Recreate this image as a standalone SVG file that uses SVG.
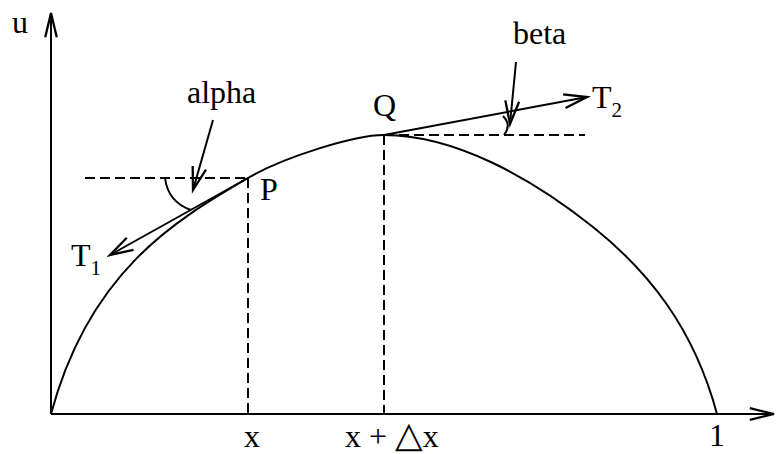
<svg xmlns="http://www.w3.org/2000/svg" width="776" height="454" viewBox="0 0 776 454">
<defs>
<style>
.ln{fill:none;stroke:#000;stroke-width:2}
.dash{fill:none;stroke:#000;stroke-width:2;stroke-dasharray:10,5}
.t{font-family:"Liberation Serif","Times New Roman",serif;font-size:32px;fill:#000}
.s{font-size:21px}
</style>
<marker id="ah" markerUnits="userSpaceOnUse" markerWidth="30" markerHeight="30" viewBox="-22 -8 26 16" refX="0" refY="0" orient="auto">
<path d="M-20,-6 L0,0 L-20,6" fill="none" stroke="#000" stroke-width="2"/>
</marker>
<marker id="ax" markerUnits="userSpaceOnUse" markerWidth="30" markerHeight="30" viewBox="-22 -8 26 16" refX="0" refY="0" orient="auto">
<path d="M-21,-5 L0,0 L-21,5" fill="none" stroke="#000" stroke-width="2"/>
</marker>
</defs>
<rect width="776" height="454" fill="#fff"/>
<g id="axes">
<line class="ln" x1="51" y1="414" x2="51" y2="13" marker-end="url(#ax)"/>
<line class="ln" x1="51" y1="414" x2="774" y2="414" marker-end="url(#ax)"/>
</g>
<g id="curve">
<path class="ln" d="M51,414 C90,268.5 179.1,218.6 248,178 C282.4,157.7 354,135 384,135"/>
<path class="ln" d="M384,135 C454,135 530.5,177 593,227 C647.7,270.75 693.6,327 717,414"/>
</g>
<g id="connectors">
<line class="dash" x1="85" y1="178" x2="248" y2="178"/>
<line class="dash" x1="248" y1="178" x2="248" y2="414"/>
<line class="dash" x1="384" y1="135" x2="384" y2="414"/>
<line class="dash" x1="384" y1="135" x2="585" y2="135"/>
<line class="ln" x1="248" y1="178" x2="110" y2="255" marker-end="url(#ah)"/>
<line class="ln" x1="384" y1="135" x2="587" y2="97" marker-end="url(#ah)"/>
<line class="ln" x1="213" y1="120" x2="193" y2="190" marker-end="url(#ah)"/>
<line class="ln" x1="516" y1="62" x2="510" y2="124" marker-end="url(#ah)"/>
<path class="ln" d="M165,178 Q168,202 191,210"/>
<path class="ln" d="M503,116 Q512,125 504,135"/>
</g>
<g id="labels">
<text class="t" x="12" y="33">u</text>
<text class="t" x="187" y="103">alpha</text>
<text class="t" x="513" y="44">beta</text>
<text class="t" x="373" y="116">Q</text>
<text class="t" x="592" y="108">T<tspan class="s" dy="9">2</tspan></text>
<text class="t" x="260" y="200">P</text>
<text class="t" x="71" y="266">T<tspan class="s" dy="9">1</tspan></text>
<text class="t" x="244" y="447">x</text>
<text class="t" x="345" y="447">x + <tspan font-family="DejaVu Sans" font-size="36">△</tspan>x</text>
<text class="t" x="709" y="446">1</text>
</g>
</svg>
